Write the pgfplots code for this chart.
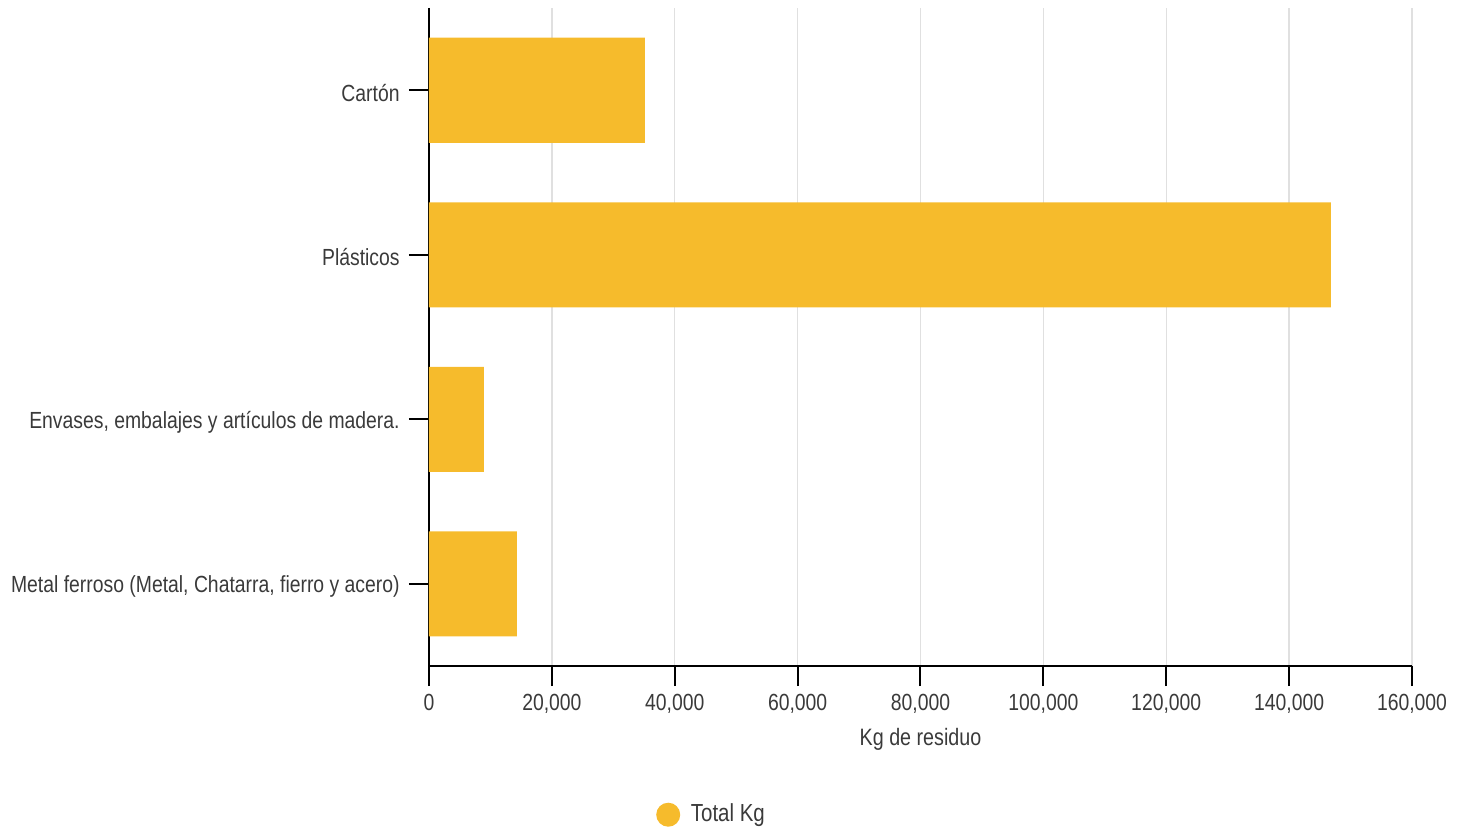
\documentclass[border=0pt]{standalone}
\usepackage{fontspec}
\setmainfont{Liberation Sans}[FakeStretch=0.83]
\usepackage{pgfplots}
\pgfplotsset{compat=1.18}
\definecolor{barcol}{HTML}{F6BB2C}
\definecolor{txtcol}{HTML}{3A3A3A}
\definecolor{gridcol}{HTML}{E0E0E0}
\begin{document}
\fontsize{17.5pt}{21pt}\selectfont
\begin{tikzpicture}
% page frame: 1px = 0.75pt, axis box lower-left corner at the origin
\useasboundingbox (-321.75pt,-123.75pt) rectangle (780.75pt,499.5pt);
\begin{axis}[
  scale only axis,
  width=737.25pt, height=493.5pt,
  xbar, bar width=78.75pt,
  xmin=0, xmax=160000,
  ymin=-0.5, ymax=3.5,
  y dir=reverse,
  ytick={0,1,2,3},
  yticklabels={Cartón, Plásticos, {Envases, embalajes y artículos de madera.}, {Metal ferroso (Metal, Chatarra, fierro y acero)}},
  xtick={0,20000,40000,60000,80000,100000,120000,140000,160000},
  scaled x ticks=false,
  /pgf/number format/.cd, fixed, 1000 sep={,}, assume math mode=true,
  /pgfplots/.cd,
  axis x line*=bottom, axis y line*=left,
  axis line style={black, line width=1.5pt, -},
  tick style={black, line width=1.5pt},
  major tick length=15pt,
  tick align=outside,
  xmajorgrids, ymajorgrids=false,
  major grid style={gridcol, line width=1pt},
  ticklabel style={text=txtcol, font=\fontsize{17.5pt}{21pt}\selectfont},
  yticklabel style={xshift=-1pt, yshift=-2pt},
  xticklabel style={yshift=0pt},
  xlabel={Kg de residuo},
  xlabel style={text=txtcol, font=\fontsize{17.8pt}{21pt}\selectfont, at={(0.5,-0.111)}, anchor=center},
  legend style={at={(0.2309,-0.226)}, anchor=west, draw=none, fill=none,
    inner sep=0pt, column sep=6pt,
    text=txtcol, font=\fontsize{18.5pt}{22pt}\selectfont, legend cell align=left},
  clip=false,
]
\addplot[fill=barcol, draw=none,
  legend image code/.code={\fill[barcol] (9pt,0pt) circle (9pt);}]
  coordinates {(35150,0) (146800,1) (8950,2) (14320,3)};
\legend{Total Kg}
\end{axis}
\end{tikzpicture}
\end{document}
